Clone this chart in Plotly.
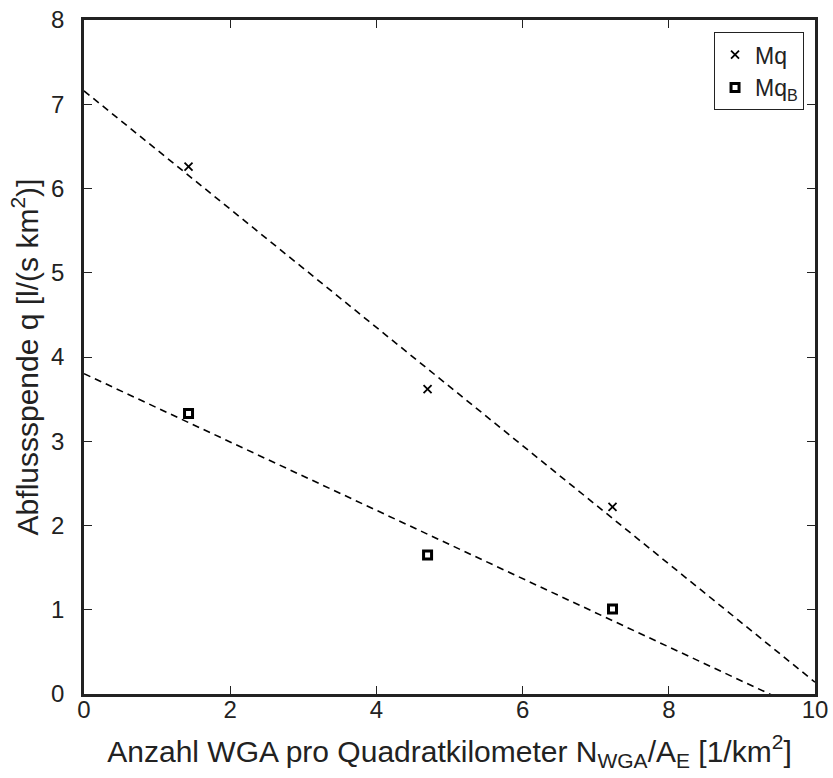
import numpy as np
import plotly.graph_objects as go

x_vals = [1.43, 4.70, 7.23]
mq = [6.26, 3.62, 2.22]
mqb = [3.33, 1.65, 1.01]
x_fit = [0, 10]

x_ticks = [0, 2, 4, 6, 8, 10]
y_ticks = [0, 1, 2, 3, 4, 5, 6, 7, 8]

def fit(xs, ys):
    k, d = np.polyfit(xs, ys, 1)
    return [k * xf + d for xf in x_fit]

font = "Liberation Sans, Arial, sans-serif"
fig = go.Figure()
fig.add_trace(go.Scatter(x=x_fit, y=fit(x_vals, mq), mode="lines",
                         line=dict(color="black", width=1.6, dash="7px,5px"),
                         showlegend=False, hoverinfo="skip"))
fig.add_trace(go.Scatter(x=x_fit, y=fit(x_vals, mqb), mode="lines",
                         line=dict(color="black", width=1.6, dash="7px,5px"),
                         showlegend=False, hoverinfo="skip"))
fig.add_trace(go.Scatter(x=x_vals, y=mq, mode="markers", name="Mq",
                         marker=dict(symbol="x-thin", size=8, color="black",
                                     line=dict(color="black", width=1.8))))
fig.add_trace(go.Scatter(x=x_vals, y=mqb, mode="markers", name="Mq<sub>B</sub>",
                         marker=dict(symbol="square-open", size=8, color="black",
                                     line=dict(color="black", width=3))))

axis_common = dict(showgrid=False, zeroline=False, showline=True, linecolor="#222",
                   linewidth=2.5, mirror="ticks", ticks="inside", ticklen=8,
                   tickcolor="#222", tickwidth=1, automargin=False,
                   ticklabeloverflow="allow",
                   tickfont=dict(family=font, size=24, color="#222"))
fig.update_xaxes(range=[0, 10], tickvals=x_ticks, **axis_common, ticklabelstandoff=-8,
                 title=dict(text="Anzahl WGA pro Quadratkilometer N<sub>WGA</sub>/A<sub>E</sub> [1/km<sup>2</sup>]",
                            font=dict(family=font, size=30, color="#222"), standoff=20))
fig.update_yaxes(range=[0, 8], tickvals=y_ticks, **axis_common, ticklabelstandoff=12,
                 title=dict(text="Abflussspende q [l/(s km<sup>2</sup>)]",
                            font=dict(family=font, size=30, color="#222"), standoff=4))
fig.update_layout(
    width=833, height=778,
    margin=dict(l=84, r=18, t=20, b=84),
    paper_bgcolor="white", plot_bgcolor="white",
    legend=dict(x=0.985, y=0.982, xanchor="right", yanchor="top",
                bordercolor="#222", borderwidth=1, bgcolor="white",
                font=dict(family=font, size=23, color="#222"),
                itemwidth=30, tracegroupgap=0),
)
fig.write_html("out.html", post_script="document.body.style.margin='0';",
               config={"displayModeBar": False})
